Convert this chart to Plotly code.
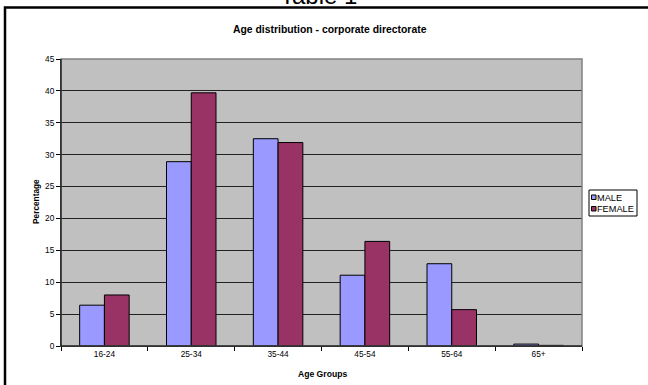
import plotly.graph_objects as go

categories = ["16-24", "25-34", "35-44", "45-54", "55-64", "65+"]
male = [6.4, 28.9, 32.5, 11.1, 12.9, 0.3]
female = [8.0, 39.7, 31.9, 16.4, 5.7, 0.1]
y_ticks = [0, 5, 10, 15, 20, 25, 30, 35, 40, 45]

MALE_C = "#9999FF"
FEMALE_C = "#993366"

W, H = 648, 385
L, R, T, B = 61, 66, 59, 39
PW, PH = W - L - R, H - T - B


def px(x):
    return (x - L) / PW


def py(y):
    return (H - B - y) / PH


fig = go.Figure()
fig.add_trace(go.Bar(x=categories, y=male, name="MALE", marker=dict(color=MALE_C, line=dict(color="black", width=1)), showlegend=False))
fig.add_trace(go.Bar(x=categories, y=female, name="FEMALE", marker=dict(color=FEMALE_C, line=dict(color="black", width=1)), showlegend=False))

font = "Arial, Liberation Sans, sans-serif"

fig.update_layout(
    width=W, height=H,
    margin=dict(l=L, r=R, t=T, b=B, pad=0),
    paper_bgcolor="white",
    plot_bgcolor="#C0C0C0",
    barmode="group",
    bargap=0.43,
    bargroupgap=0,
    font=dict(family=font, size=8, color="black"),
    xaxis=dict(
        showgrid=False, ticks="outside", ticklen=4, tickcolor="black",
        showline=True, linecolor="black", linewidth=1, mirror=False,
        tickson="boundaries", tickfont=dict(size=8.3),
    ),
    yaxis=dict(
        range=[0, 45], tickvals=y_ticks, showgrid=True, gridcolor="#222222", gridwidth=1,
        ticks="outside", ticklen=4, tickcolor="black", showline=True, linecolor="black",
        linewidth=1, zeroline=False, tickfont=dict(size=8.3),
    ),
)

# plot area border (top/right gray)
fig.add_shape(type="rect", xref="paper", yref="paper", x0=0, x1=1, y0=0, y1=1,
              line=dict(color="#808080", width=1.5), layer="above")
# redraw left and bottom axis lines in black
fig.add_shape(type="line", xref="paper", yref="paper", x0=0, x1=0, y0=0, y1=1,
              line=dict(color="black", width=1), layer="above")
fig.add_shape(type="line", xref="paper", yref="paper", x0=0, x1=1, y0=0, y1=0,
              line=dict(color="black", width=1), layer="above")

# outer chart border
fig.add_shape(type="rect", xref="paper", yref="paper",
              x0=px(5), x1=px(700), y0=py(440), y1=py(7.5),
              line=dict(color="black", width=2.5))

annotations = [
    dict(text="Table 1", x=px(318), y=py(11), xanchor="center", yanchor="bottom",
         font=dict(size=24, family=font), showarrow=False),
    dict(text="<b>Age distribution - corporate directorate</b>", x=px(330), y=py(30),
         xanchor="center", yanchor="middle", font=dict(size=10.4, family=font), showarrow=False),
    dict(text="<b>Percentage</b>", x=px(36), y=py(202), textangle=-90,
         xanchor="center", yanchor="middle", font=dict(size=8.3, family=font), showarrow=False),
    dict(text="<b>Age Groups</b>", x=px(322), y=py(374),
         xanchor="center", yanchor="middle", font=dict(size=8.6, family=font), showarrow=False),
    dict(text="MALE", x=px(595), y=py(197.5), xanchor="left", yanchor="middle",
         font=dict(size=9.2, family=font), showarrow=False),
    dict(text="FEMALE", x=px(595), y=py(209), xanchor="left", yanchor="middle",
         font=dict(size=9.2, family=font), showarrow=False),
]
for a in annotations:
    a["xref"] = "paper"
    a["yref"] = "paper"
    fig.add_annotation(**a)

# legend box and swatches
fig.add_shape(type="rect", xref="paper", yref="paper", x0=px(589), x1=px(637), y0=py(216), y1=py(190),
              line=dict(color="black", width=1), fillcolor="white")
fig.add_shape(type="rect", xref="paper", yref="paper", x0=px(591.5), x1=px(596), y0=py(199.5), y1=py(195),
              line=dict(color="black", width=1), fillcolor=MALE_C)
fig.add_shape(type="rect", xref="paper", yref="paper", x0=px(591.5), x1=px(596), y0=py(211), y1=py(206.5),
              line=dict(color="black", width=1), fillcolor=FEMALE_C)

fig.write_html("out.html")
